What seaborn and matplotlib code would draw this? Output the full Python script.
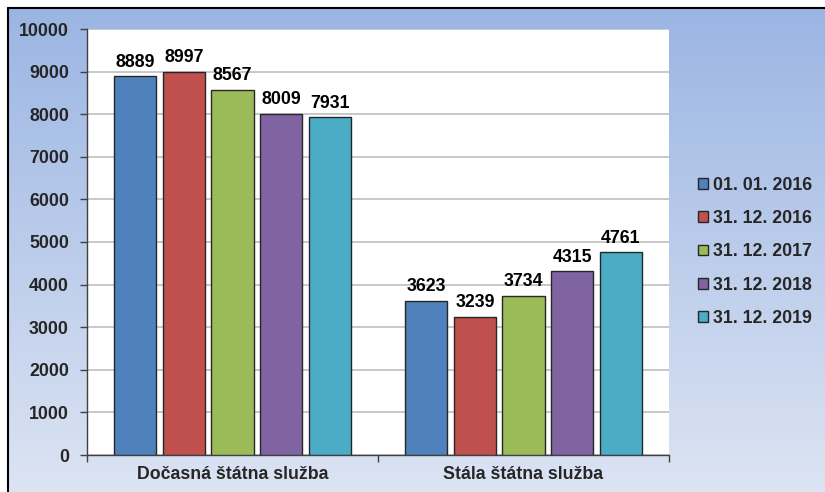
import matplotlib
import matplotlib.pyplot as plt
import numpy as np
import pandas as pd
import seaborn as sns
from matplotlib.lines import Line2D

matplotlib.use("Agg")

categories = ["Dočasná štátna služba", "Stála štátna služba"]
dates = ["01. 01. 2016", "31. 12. 2016", "31. 12. 2017", "31. 12. 2018", "31. 12. 2019"]
docasna = [8889, 8997, 8567, 8009, 7931]
stala = [3623, 3239, 3734, 4315, 4761]
colors = ["#4F81BD", "#C0504D", "#9BBB59", "#8064A2", "#4BACC6"]

df = pd.DataFrame({
    "category": [categories[0]] * len(dates) + [categories[1]] * len(dates),
    "date": dates + dates,
    "value": docasna + stala,
})

sns.set_theme(style="white")
plt.rcParams["font.family"] = ["Liberation Sans", "DejaVu Sans"]
plt.rcParams["font.weight"] = "bold"
fs = 12.8

fig = plt.figure(figsize=(8.25, 4.92), dpi=100)
fig.patch.set_facecolor("white")

# gradient background behind everything
bg = fig.add_axes([8 / 825, 0, 1 - 8 / 825, 1 - 8 / 492], zorder=-10)
grad = np.linspace(0, 1, 256).reshape(-1, 1)
top = np.array([155, 181, 227]) / 255
bottom = np.array([220, 228, 243]) / 255
img = top + (bottom - top) * grad[:, :, None]
bg.imshow(img, aspect="auto", extent=[0, 1, 0, 1], origin="upper")
bg.set_axis_off()

# black border on top and left
fig.add_artist(Line2D([8 / 825, 1], [1 - 8 / 492, 1 - 8 / 492], color="black", lw=1.5))
fig.add_artist(Line2D([8 / 825, 8 / 825], [0, 1 - 8 / 492], color="black", lw=1.5))

ax = fig.add_axes([87 / 825, 1 - 455 / 492, (669 - 87) / 825, (455 - 29) / 492])
ax.set_facecolor("white")

sns.barplot(data=df, x="category", y="value", hue="date", palette=colors,
            saturation=1, width=0.835, gap=0.13, edgecolor="#262626", linewidth=1,
            ax=ax, legend=True, zorder=3)

for cont in ax.containers:
    ax.bar_label(cont, padding=4, fontsize=fs, fontweight="bold", color="black")

ax.set_ylim(0, 10000)
ax.set_yticks(np.arange(0, 10001, 1000))
ax.yaxis.grid(True, color="#BFBFBF", lw=1.2, zorder=0)
ax.set_axisbelow(True)
ax.set_xlim(-0.5, 1.5)
ax.set_xticks([-0.5, 0.5, 1.5], ["", "", ""])
ax.set_xticks([0, 1], categories, minor=True)
ax.tick_params(axis="x", which="major", length=5, width=1, color="#404040", direction="out", bottom=True)
ax.tick_params(axis="x", which="minor", length=0, pad=8, labelsize=fs)
ax.tick_params(axis="y", length=5, width=1, color="#404040", direction="out", left=True, labelsize=fs, pad=8)
for lbl in ax.get_xticklabels(minor=True) + ax.get_yticklabels():
    lbl.set_fontweight("bold")
ax.set_xlabel("")
ax.set_ylabel("")
for side in ["top", "right"]:
    ax.spines[side].set_visible(False)
for side in ["left", "bottom"]:
    ax.spines[side].set_color("#404040")
    ax.spines[side].set_linewidth(1)

handles, labels = ax.get_legend_handles_labels()
ax.legend(handles, labels, loc="center left", bbox_to_anchor=(1.022, 0.477),
          frameon=False, handlelength=0.55, handleheight=0.55, handletextpad=0.3,
          labelspacing=0.92, prop={"size": fs, "weight": "bold"})

fig.savefig("out.png", dpi=100)
